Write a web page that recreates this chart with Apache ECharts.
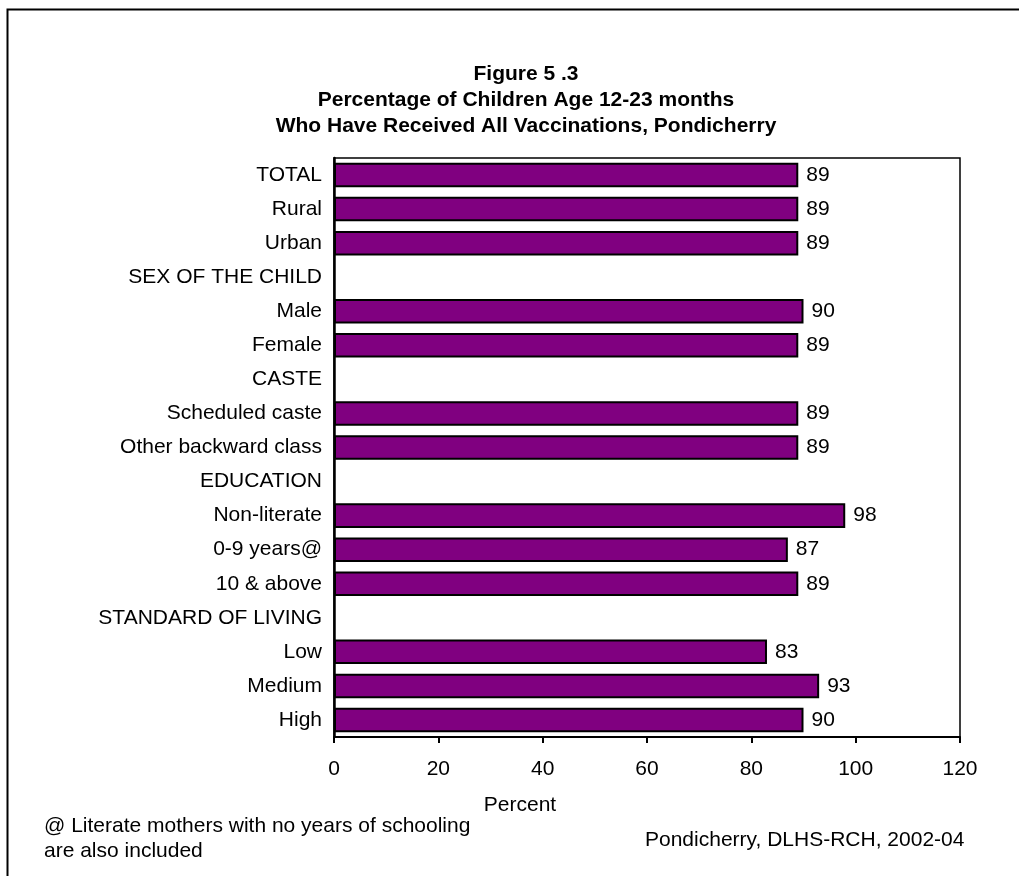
<!DOCTYPE html>
<html>
<head>
<meta charset="utf-8">
<script src="https://cdn.jsdelivr.net/npm/echarts@6/dist/echarts.min.js"></script>
<style>
  html, body { margin: 0; padding: 0; background: #fff; }
  #chart { width: 1019px; height: 876px; }
</style>
</head>
<body>
<div id="chart"></div>
<script>
// categories, top to bottom (blank rows are group headings)
const categories = [
  'TOTAL', 'Rural', 'Urban',
  'SEX OF THE CHILD', 'Male', 'Female',
  'CASTE', 'Scheduled caste', 'Other backward class',
  'EDUCATION', 'Non-literate', '0-9 years@', '10 & above',
  'STANDARD OF LIVING', 'Low', 'Medium', 'High'
];
const values = [
  89, 89, 89,
  null, 90, 89,
  null, 89, 89,
  null, 98, 87, 89,
  null, 83, 93, 90
];
const xTicks = [0, 20, 40, 60, 80, 100, 120];

const font = 'Arial, "Liberation Sans", Helvetica, sans-serif';
const fs = 21;

let chart = echarts.init(document.getElementById('chart'));
let option = {
  animation: false,
  backgroundColor: '#fff',
  title: {
    text: 'Figure 5 .3\nPercentage of Children Age 12-23 months\nWho Have Received All Vaccinations, Pondicherry',
    left: 521,
    top: 56,
    textAlign: 'center',
    textStyle: { fontFamily: font, fontSize: fs, fontWeight: 'bold', color: '#000', lineHeight: 26 }
  },
  grid: {
    left: 334, right: 59, top: 158, bottom: 139,
    show: true, borderColor: '#000', borderWidth: 1.5
  },
  xAxis: {
    type: 'value',
    min: xTicks[0], max: xTicks[xTicks.length - 1], interval: 20,
    axisLine: { show: true, lineStyle: { color: '#000', width: 2 } },
    axisTick: { show: true, inside: false, length: 6, lineStyle: { color: '#000', width: 2 } },
    axisLabel: { fontFamily: font, fontSize: fs, color: '#000', margin: 22 },
    splitLine: { show: false }
  },
  yAxis: {
    type: 'category',
    data: categories,
    inverse: true,
    axisLine: { show: true, lineStyle: { color: '#000', width: 2.5 } },
    axisTick: { show: false },
    axisLabel: { fontFamily: font, fontSize: fs, color: '#000', margin: 12 }
  },
  series: [{
    type: 'bar',
    data: values,
    barCategoryGap: '28%',
    itemStyle: { color: '#800080', borderColor: '#000', borderWidth: 2 },
    label: {
      show: true, position: 'right', distance: 8,
      fontFamily: font, fontSize: fs, color: '#000'
    }
  }],
  graphic: [
    {
      type: 'rect',
      shape: { x: 7.5, y: 9.5, width: 1030, height: 900 },
      style: { fill: null, stroke: '#000', lineWidth: 2 }
    },
    {
      type: 'text', x: 520, y: 805,
      style: { text: 'Percent', font: fs + 'px ' + font, fill: '#000', align: 'center', verticalAlign: 'middle' }
    },
    {
      type: 'text', x: 44, y: 814,
      style: {
        text: '@ Literate mothers with no years of schooling\nare also included',
        font: fs + 'px ' + font, fill: '#000', lineHeight: 25
      }
    },
    {
      type: 'text', x: 645, y: 840,
      style: { text: 'Pondicherry, DLHS-RCH, 2002-04', font: fs + 'px ' + font, fill: '#000', verticalAlign: 'middle' }
    }
  ]
};
chart.setOption(option);
</script>
</body>
</html>
